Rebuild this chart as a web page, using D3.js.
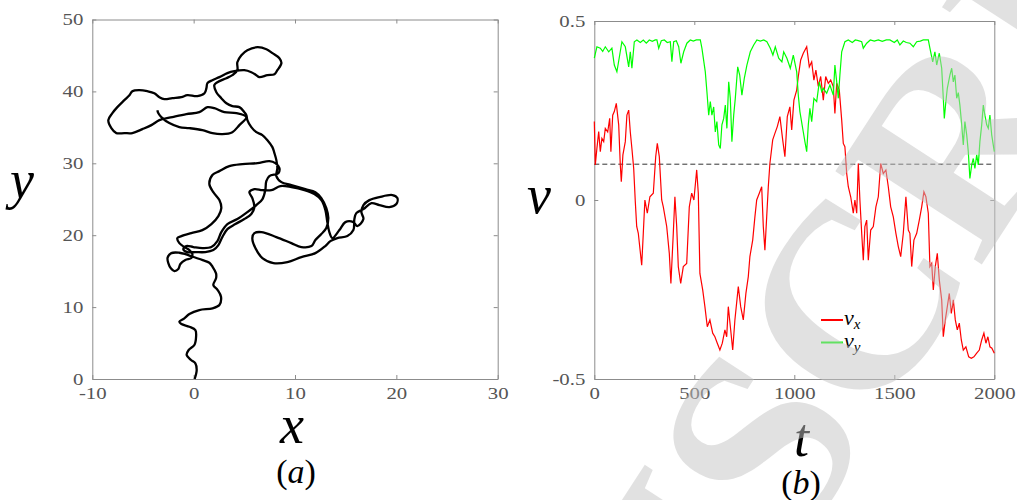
<!DOCTYPE html>
<html>
<head>
<meta charset="utf-8">
<script src="https://cdn.jsdelivr.net/npm/d3@7"></script>
<style>
  body { margin: 0; background: #fff; }
  svg { display: block; }
  .axis path, .axis line { stroke: #8c8c8c; }
  .axis text { font-family: "Liberation Serif", "DejaVu Serif", serif; font-size: 16px; fill: #555; }
  .lbl { font-family: "Liberation Serif", "DejaVu Serif", serif; font-style: italic; fill: #000; }
</style>
</head>
<body>
<script>
// panel (a): particle trajectory
const trajX = [0.1,0.3,0.17,-0.26,-0.69,-0.49,0.07,0.24,0.17,-0.42,-1.21,-1.41,-0.92,-0.42,0.56,1.87,2.54,2.70,2.37,1.94,2.21,2.21,1.87,1.55,0.89,-0.10,
  -0.82,-1.41,-2.20,-2.57,-2.50,-2.23,-1.90,-1.51,-1.31,-0.82,-0.23,
  -0.13,-0.42,-0.92,-1.41,-1.61,-1.21,-0.23,0.86,1.75,2.44,2.73,2.54,1.94,1.55,1.85,2.54,3.52,4.81,6.29,7.47,8.06,8.46,8.36,7.47,7.17,7.07,6.79,6.19,5.30,4.31,3.33,2.73,2.34,1.75,0.86,-0.03,-0.72,
  -1.02,-0.62,0.17,1.15,1.94,2.44,2.83,3.33,4.12,5.0,5.69,5.99,5.79,5.50,5.99,6.78,7.67,8.56,9.64,10.93,11.91,12.60,13.0,13.19,13.39,13.69,
  14.38,14.97,15.76,16.15,16.75,16.55,16.75,17.34,18.33,19.61,20.10,20.0,19.31,18.33,17.54,16.75,16.05,15.86,15.76,15.17,14.18,13.49,
  12.99,12.01,10.63,9.25,7.87,6.78,6.09,5.79,5.99,6.68,8.16,9.64,10.63,11.62,12.01,12.60,13.09,13.29,13.09,12.60,12.01,11.02,9.64,8.66,8.16,8.26,8.16,
  7.97,7.77,7.28,6.78,6.19,5.69,5.30,5.20,5.0,4.51,3.82,3.23,2.73,2.24,2.04,2.34,3.23,3.82,4.31,4.31,4.71,5.30,6.29,7.18,7.77,8.46,8.66,8.26,7.97,7.28,6.49,6.19,5.69,5.0,4.02,3.33,2.54,1.85,1.36,1.26,1.07,0.37,
  -0.62,-1.21,-2.10,-2.89,-3.38,-3.88,-4.57,-5.36,-6.05,-6.34,-6.84,-7.53,-8.02,-8.42,-8.12,-7.63,-6.84,-6.05,-5.06,-4.17,-3.38,-2.10,-0.72,0.56,1.36,2.04,3.03,4.22,5.20,
  4.51,3.82,2.83,1.85,0.86,-0.42,-1.41,-2.40,-3.09,-3.48,-3.58]
const trajY = [0,1.25,2.18,2.64,3.34,4.03,4.73,5.88,6.81,7.27,7.65,7.97,8.44,9.04,9.59,9.83,10.29,11.44,12.37,13.07,14.0,14.69,15.61,16.17,16.54,17.0,
  17.37,17.56,17.51,16.89,16.12,15.36,15.01,15.29,15.99,16.54,16.82,
  17.38,17.93,18.35,18.90,19.60,19.88,20.29,20.71,21.55,22.66,23.77,24.88,25.99,27.11,28.36,28.91,29.61,29.89,30.03,30.30,30.03,29.33,28.63,28.22,27.52,26.27,25.02,24.19,23.21,22.24,21.55,20.43,19.18,18.35,18.21,18.35,18.49,
  18.07,17.65,17.65,17.65,17.93,18.63,19.74,20.85,21.55,22.24,22.94,23.91,25.16,25.99,26.41,26.27,26.27,26.83,26.69,26.27,25.72,24.88,23.49,21.82,20.43,19.60,
  20.71,21.82,21.82,21.27,22.24,23.21,24.19,24.88,25.30,25.58,25.16,24.33,23.91,24.19,24.46,23.63,23.07,22.24,20.71,19.88,19.60,19.18,
  18.49,17.51,16.96,16.26,16.12,16.82,18.21,19.60,20.29,20.43,19.74,18.90,18.35,18.49,19.32,20.16,20.99,22.38,23.77,25.16,25.99,26.41,26.97,27.38,28.22,29.33,30.44,
  31.42,32.25,33.22,33.92,34.33,35.03,36.0,36.70,37.11,37.81,37.95,38.36,39.06,39.89,40.87,41.28,41.84,42.26,42.95,44.06,45.04,45.73,46.15,45.87,45.32,44.62,43.93,42.95,42.40,42.26,41.98,42.26,42.67,42.95,42.81,42.54,41.98,41.56,41.15,40.45,39.75,39.34,
  39.47,39.20,39.06,38.92,39.20,39.75,40.03,40.17,40.03,39.47,38.78,37.81,36.97,36.0,34.89,34.20,34.20,34.20,34.75,35.31,36.0,36.42,36.84,37.11,37.81,37.67,37.11,36.97,36.42,
  35.31,34.33,34.06,34.20,34.61,34.89,35.03,35.59,36.28,36.97,37.39]

// panel (b): velocity components against time
const tVx = [0,5,13,22,30,38,47,55,67,77,83,92,100,110,122,130,135,143,155,163,172,180,188,197,205,212,220,237,245,253,265,278,295,307,315,325,337,345,362,375,383,395,403,412,420,432,445,462,475,487,498,512,520,528,542,553,565,578,592,603,615,628,640,653,662,670,682,692,703,720,732,745,758,770,778,792,803,812,825,837,845,853,862,870,878,892,903,915,928,942,953,965,978,987,998,1012,1020,1032,1045,1062,1075,1087,1098,1108,1120,1132,1145,1157,1170,1182,1195,1203,1212,1225,1237,1245,1253,1262,1270,1282,1295,1303,1312,1320,1328,1337,1345,1353,1362,1370,1382,1395,1408,1420,1432,1445,1458,1470,1482,1495,1508,1520,1532,1545,1558,1570,1578,1587,1598,1612,1625,1637,1648,1658,1670,1678,1687,1695,1705,1715,1725,1737,1745,1755,1765,1775,1785,1795,1805,1815,1825,1835,1845,1858,1872,1885,1898,1912,1925,1937,1948,1958,1968,1978,1988,2000]
const vx = [0.219,0.098,0.144,0.191,0.135,0.172,0.163,0.2,0.19,0.228,0.135,0.237,0.247,0.27,0.21,0.098,0.051,0.126,0.163,0.237,0.251,0.19,0.144,0.088,-0.005,-0.074,-0.093,-0.182,-0.093,0,-0.037,0.009,0.019,0.121,0.158,0.121,0,-0.019,-0.074,-0.149,-0.233,-0.093,0.009,-0.074,-0.186,-0.233,-0.186,-0.177,-0.019,0.019,0,0.084,0.019,-0.205,-0.251,-0.298,-0.354,-0.335,-0.372,-0.382,-0.4,-0.419,-0.4,-0.363,-0.382,-0.298,-0.363,-0.419,-0.335,-0.242,-0.298,-0.335,-0.261,-0.214,-0.158,-0.112,-0.047,0,0.019,0.037,-0.074,-0.14,-0.047,0.037,0.102,0.168,0.186,0.205,0.233,0.168,0.121,0.233,0.26,0.196,0.279,0.307,0.345,0.391,0.41,0.428,0.372,0.386,0.335,0.363,0.317,0.345,0.279,0.345,0.326,0.335,0.317,0.242,0.326,0.307,0.223,0.158,0.149,0.074,0.037,0.009,-0.037,0,-0.037,0.102,0,-0.093,-0.168,-0.074,-0.056,-0.168,-0.084,-0.074,-0.019,0.009,0.102,0.074,0.084,0.037,-0.019,-0.047,-0.093,-0.13,-0.158,-0.093,0.009,-0.084,-0.093,-0.186,-0.112,-0.093,-0.056,-0.019,0.023,0.009,-0.037,-0.186,-0.177,-0.251,-0.186,-0.149,-0.223,-0.279,-0.382,-0.335,-0.298,-0.261,-0.317,-0.279,-0.335,-0.363,-0.344,-0.391,-0.419,-0.41,-0.438,-0.442,-0.438,-0.428,-0.419,-0.391,-0.372,-0.4,-0.382,-0.41,-0.414,-0.428]
const tVy = [0,13,30,42,55,72,88,100,113,127,138,155,172,180,188,200,213,230,245,260,275,290,305,313,322,335,350,365,380,388,397,410,422,433,447,463,480,495,510,530,538,555,563,572,580,588,597,605,613,622,630,638,647,655,663,672,680,688,697,705,717,727,738,750,763,780,797,813,830,847,863,880,893,905,922,938,947,963,980,995,1012,1020,1028,1045,1053,1062,1070,1078,1087,1098,1112,1125,1137,1145,1162,1178,1195,1203,1212,1220,1228,1237,1253,1270,1290,1305,1320,1337,1345,1362,1380,1400,1420,1440,1460,1478,1500,1515,1528,1545,1560,1578,1595,1612,1630,1645,1670,1678,1692,1703,1712,1725,1737,1745,1750,1758,1765,1778,1787,1795,1803,1812,1820,1828,1837,1845,1853,1862,1870,1878,1887,1895,1903,1912,1920,1928,1937,1945,1953,1962,1970,1978,1987,2000]
const vy = [0.396,0.428,0.424,0.415,0.428,0.414,0.424,0.377,0.358,0.405,0.442,0.428,0.372,0.414,0.368,0.442,0.447,0.44,0.447,0.438,0.447,0.443,0.447,0.447,0.424,0.445,0.447,0.44,0.442,0.386,0.442,0.445,0.428,0.382,0.414,0.438,0.447,0.444,0.447,0.447,0.424,0.358,0.303,0.237,0.275,0.237,0.26,0.19,0.219,0.154,0.144,0.21,0.228,0.265,0.2,0.33,0.284,0.163,0.237,0.284,0.372,0.349,0.293,0.34,0.377,0.414,0.433,0.447,0.444,0.447,0.442,0.424,0.405,0.428,0.396,0.386,0.414,0.396,0.368,0.405,0.358,0.293,0.247,0.19,0.163,0.135,0.21,0.256,0.219,0.284,0.275,0.33,0.303,0.312,0.298,0.321,0.293,0.377,0.33,0.284,0.349,0.414,0.442,0.447,0.44,0.447,0.445,0.442,0.424,0.438,0.447,0.444,0.447,0.443,0.447,0.447,0.44,0.447,0.433,0.444,0.44,0.438,0.428,0.442,0.444,0.447,0.447,0.424,0.386,0.414,0.377,0.41,0.368,0.284,0.228,0.275,0.312,0.349,0.368,0.33,0.349,0.284,0.3,0.265,0.21,0.154,0.219,0.182,0.135,0.06,0.098,0.116,0.088,0.126,0.098,0.163,0.21,0.265,0.237,0.21,0.2,0.237,0.182,0.135]
const vRef = 0.1

const xTicksA = [-10, 0, 10, 20, 30]
const yTicksA = [0, 10, 20, 30, 40, 50]
const tTicks = [0, 500, 1000, 1500, 2000]
const vTicks = [-0.5, 0, 0.5]

const svg = d3.select('body').append('svg').attr('width', 1017).attr('height', 500)
const plain = d => String(d)

function frame(x, y, xt, yt) {
  const g = svg.append('g')
  const [x0, x1] = x.range(), [y0, y1] = y.range()
  g.append('g').attr('class', 'axis').attr('transform', `translate(0,${y0})`)
    .call(d3.axisBottom(x).tickValues(xt).tickFormat(plain).tickSizeInner(-4).tickSizeOuter(0).tickPadding(9))
  g.append('g').attr('class', 'axis').attr('transform', `translate(0,${y1})`)
    .call(d3.axisTop(x).tickValues(xt).tickSizeInner(-4).tickSizeOuter(0).tickFormat(''))
  g.append('g').attr('class', 'axis').attr('transform', `translate(${x0},0)`)
    .call(d3.axisLeft(y).tickValues(yt).tickFormat(plain).tickSizeInner(-4).tickSizeOuter(0).tickPadding(9))
  g.append('g').attr('class', 'axis').attr('transform', `translate(${x1},0)`)
    .call(d3.axisRight(y).tickValues(yt).tickSizeInner(-4).tickSizeOuter(0).tickFormat(''))
  g.selectAll('.axis').attr('font-family', null).attr('font-size', null)
  return g
}

// the source figure has wide digits; stretch tick labels to match
function widen(sel, k) {
  sel.each(function () {
    const w = this.getComputedTextLength()
    if (w > 0) d3.select(this).attr('textLength', w * k).attr('lengthAdjust', 'spacingAndGlyphs')
  })
}

// ---- panel (a)
const xa = d3.scaleLinear().domain([-10, 30]).range([92.3, 497.7])
const ya = d3.scaleLinear().domain([0, 50]).range([379, 19.5])
frame(xa, ya, xTicksA, yTicksA)
svg.append('path')
  .attr('d', d3.line().x(i => xa(trajX[i])).y(i => ya(trajY[i])).curve(d3.curveCatmullRom)(d3.range(trajX.length)))
  .attr('fill', 'none').attr('stroke', '#000').attr('stroke-width', 2.3).attr('stroke-linejoin', 'round')

// ---- panel (b)
const xb = d3.scaleLinear().domain([0, 2000]).range([594.3, 994.3])
const yb = d3.scaleLinear().domain([-0.5, 0.5]).range([379, 21])
frame(xb, yb, tTicks, vTicks)

svg.append('line')
  .attr('x1', xb(0)).attr('x2', xb(2000)).attr('y1', yb(vRef)).attr('y2', yb(vRef))
  .attr('stroke', '#333').attr('stroke-width', 1).attr('stroke-dasharray', '5,3')

const lineB = (ts, vs) => d3.line().x(i => xb(ts[i])).y(i => yb(vs[i]))(d3.range(ts.length))
svg.append('path').attr('d', lineB(tVx, vx)).attr('fill', 'none').attr('stroke', '#ff0000').attr('stroke-width', 1.2)
svg.append('path').attr('d', lineB(tVy, vy)).attr('fill', 'none').attr('stroke', '#00ff00').attr('stroke-width', 1.2)

widen(svg.selectAll('.tick text'), 1.3)

// legend
const leg = [{ c: '#ff0000', s: 'x', y: 320 }, { c: '#00ff00', s: 'y', y: 342.5 }]
leg.forEach(d => {
  svg.append('line').attr('x1', 821).attr('x2', 843).attr('y1', d.y).attr('y2', d.y)
    .attr('stroke', d.c).attr('stroke-width', 2)
  const t = svg.append('text').attr('class', 'lbl').attr('x', 844).attr('y', d.y + 5).style('font-size', '22px')
  t.append('tspan').text('v')
  t.append('tspan').attr('dy', 4).style('font-size', '15px').text(d.s)
})

// axis labels
function label(txt, x, y, size) {
  return svg.append('text').attr('class', 'lbl').attr('x', x).attr('y', y).style('font-size', size + 'px').text(txt)
}
label('y', 10, 198, 54)
label('x', 280, 443, 54)
label('v', 527, 213, 54)
label('t', 794, 456, 54)

function panelTag(letter, cx, y) {
  const t = svg.append('text').attr('x', cx).attr('y', y).attr('text-anchor', 'middle')
    .style('font-family', '"Liberation Serif", "DejaVu Serif", serif').style('font-size', '34px')
  t.append('tspan').text('(')
  t.append('tspan').style('font-style', 'italic').text(letter)
  t.append('tspan').text(')')
}
panelTag('a', 296, 483)
panelTag('b', 801, 494)

// watermark over the figure
svg.append('text')
  .attr('transform', 'translate(345,1245) rotate(-57)')
  .style('font-family', '"Liberation Serif", "DejaVu Serif", serif').style('font-size', '265px').style('font-weight', 'bold')
  .attr('fill', '#c4c4c4').attr('fill-opacity', 0.5)
  .text('MANUSCRIPT')
</script>
</body>
</html>
